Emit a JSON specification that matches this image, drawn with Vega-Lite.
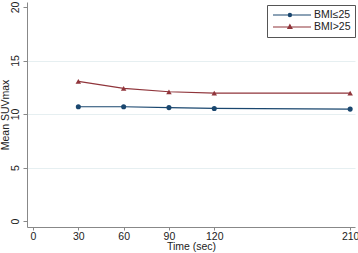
{
  "$schema": "https://vega.github.io/schema/vega-lite/v6.json",
  "width": 328,
  "height": 225,
  "autosize": {"type": "none"},
  "padding": {"left": 27, "top": 2, "right": 3, "bottom": 26},
  "background": "white",
  "config": {"view": {"stroke": null}, "font": "Liberation Sans"},
  "data": {"values": [
    {"time": 30, "group": "BMI≤25", "suv": 10.68},
    {"time": 60, "group": "BMI≤25", "suv": 10.68},
    {"time": 90, "group": "BMI≤25", "suv": 10.6},
    {"time": 120, "group": "BMI≤25", "suv": 10.52},
    {"time": 210, "group": "BMI≤25", "suv": 10.46},
    {"time": 30, "group": "BMI>25", "suv": 13.05},
    {"time": 60, "group": "BMI>25", "suv": 12.4},
    {"time": 90, "group": "BMI>25", "suv": 12.08},
    {"time": 120, "group": "BMI>25", "suv": 11.95},
    {"time": 210, "group": "BMI>25", "suv": 11.95}
  ]},
  "encoding": {
    "x": {"field": "time", "type": "quantitative",
      "scale": {"domain": [-4, 213.2], "nice": false, "zero": false},
      "axis": {"values": [0, 30, 60, 90, 120, 210], "title": "Time (sec)", "grid": false,
        "domainColor": "#888", "tickColor": "#888", "tickSize": 3, "labelFontSize": 10.5,
        "labelColor": "#222", "titleFontSize": 10.5, "titleFontWeight": "normal", "titleColor": "#222",
        "labelPadding": 1, "titlePadding": 0, "labelFlush": false}},
    "y": {"field": "suv", "type": "quantitative",
      "scale": {"domain": [-0.56, 20.47], "nice": false, "zero": false},
      "axis": {"values": [0, 5, 10, 15, 20], "title": "Mean SUVmax",
        "domainColor": "#888", "tickColor": "#888", "tickSize": 4, "labelFontSize": 10.5,
        "labelColor": "#222", "titleFontSize": 10.5, "titleFontWeight": "normal", "titleColor": "#222",
        "labelAngle": -90, "labelAlign": "center", "labelBaseline": "bottom", "labelPadding": 3,
        "titlePadding": 0, "labelFlush": false,
        "gridColor": "#e6eff1", "gridWidth": 1,
        "gridOpacity": {"condition": {"test": "datum.value == 0 || datum.value == 20", "value": 0}, "value": 1}}},
    "color": {"field": "group", "type": "nominal",
      "scale": {"domain": ["BMI≤25", "BMI>25"], "range": ["#1a476f", "#90353b"]},
      "legend": {"orient": "none", "legendX": 240, "legendY": 3, "title": null,
        "strokeColor": "#555", "fillColor": "white", "padding": 4,
        "symbolSize": 100, "symbolStrokeWidth": 1.2, "labelFontSize": 10.5, "labelColor": "#222",
        "rowPadding": 0, "labelOffset": 31,
        "encode": {"symbols": {"update": {
          "shape": {"signal": "datum.value == 'BMI≤25' ? 'M-0.8,0H6.8M2.9,0A0.32,0.32 0 1,1 2.26,0A0.32,0.32 0 1,1 2.9,0Z' : 'M-0.8,0H6.8M2.58,-0.45L2.98,0.3L2.18,0.3Z'"},
          "fill": {"signal": "datum.value == 'BMI≤25' ? '#1a476f' : '#90353b'"},
          "fillOpacity": {"value": 1}
        }}}}}
  },
  "layer": [
    {"mark": {"type": "line", "strokeWidth": 1.2}},
    {"transform": [{"filter": "datum.group == 'BMI≤25'"}],
      "mark": {"type": "point", "filled": true, "opacity": 1, "size": 26, "shape": "circle"}},
    {"transform": [{"filter": "datum.group == 'BMI>25'"}],
      "mark": {"type": "point", "filled": true, "opacity": 1, "size": 30, "shape": "triangle-up"}}
  ]
}
